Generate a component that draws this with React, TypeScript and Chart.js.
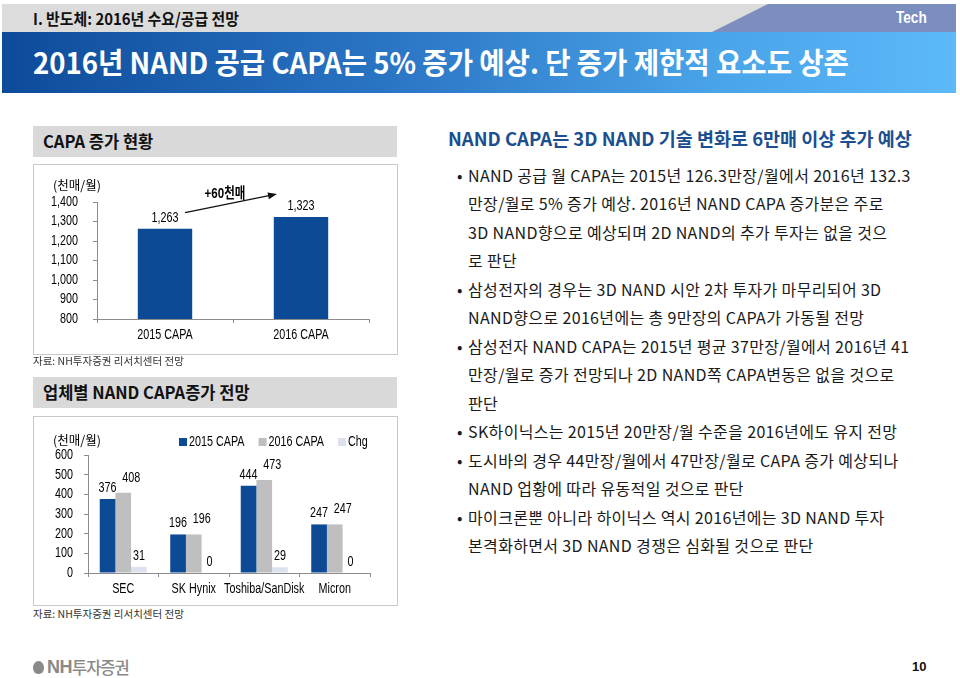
import React, { useEffect, useRef } from "react";
import { Chart, registerables } from "chart.js";

Chart.register(...registerables);

// ---------- data ----------
const capaCategories = ["2015 CAPA", "2016 CAPA"];
const capaValues = [1263, 1323];
const capaYTicks = [800, 900, 1000, 1100, 1200, 1300, 1400];
const capaIncreaseLabel = "+60천매";

const vendorCategories = ["SEC", "SK Hynix", "Toshiba/SanDisk", "Micron"];
const vendorSeriesNames = ["2015 CAPA", "2016 CAPA", "Chg"];
const vendorCapa2015 = [376, 196, 444, 247];
const vendorCapa2016 = [408, 196, 473, 247];
const vendorCapaChg = [31, 0, 29, 0];
const vendorYTicks = [0, 100, 200, 300, 400, 500, 600];

const unitLabel = "(천매/월)";
const sourceLabel = "자료: NH투자증권 리서치센터 전망";
const sectionLabel = "I. 반도체: 2016년 수요/공급 전망";
const tagLabel = "Tech";
const pageTitle = "2016년 NAND 공급 CAPA는 5% 증가 예상. 단 증가 제한적 요소도 상존";
const chart1Title = "CAPA 증가 현황";
const chart2Title = "업체별 NAND CAPA증가 전망";
const rightHeading = "NAND CAPA는 3D NAND 기술 변화로 6만매 이상 추가 예상";
const bulletLines: [boolean, string][] = [
  [true, "NAND 공급 월 CAPA는 2015년 126.3만장/월에서 2016년 132.3"],
  [false, "만장/월로 5% 증가 예상. 2016년 NAND CAPA 증가분은 주로"],
  [false, "3D NAND향으로 예상되며 2D NAND의 추가 투자는 없을 것으"],
  [false, "로 판단"],
  [true, "삼성전자의 경우는 3D NAND 시안 2차 투자가 마무리되어 3D"],
  [false, "NAND향으로 2016년에는 총 9만장의 CAPA가 가동될 전망"],
  [true, "삼성전자 NAND CAPA는 2015년 평균 37만장/월에서 2016년 41"],
  [false, "만장/월로 증가 전망되나 2D NAND쪽 CAPA변동은 없을 것으로"],
  [false, "판단"],
  [true, "SK하이닉스는 2015년 20만장/월 수준을 2016년에도 유지 전망"],
  [true, "도시바의 경우 44만장/월에서 47만장/월로 CAPA 증가 예상되나"],
  [false, "NAND 업황에 따라 유동적일 것으로 판단"],
  [true, "마이크론뿐 아니라 하이닉스 역시 2016년에는 3D NAND 투자"],
  [false, "본격화하면서 3D NAND 경쟁은 심화될 것으로 판단"],
];
const pageNumber = "10";

// ---------- styles ----------
const NUM_FONT = '"Liberation Sans", Arial, "Noto Sans CJK KR", sans-serif';
const KR_FONT = '"Noto Sans CJK KR", "Noto Sans KR", sans-serif';
const BLUE = "#0c4a96";
const GRAY_BAR = "#bfbfbf";
const CHG_COLOR = "#dbe2ee";
const AXIS = "#8c8c8c";
const seriesColors = [BLUE, GRAY_BAR, CHG_COLOR];
const NARROW = 0.77;
const LABEL_FONT = `14px ${NUM_FONT}`;

const fmt = (v: number) => Number(v).toLocaleString("en-US");

function narrowText(ctx: any, text: string, x: number, y: number, align: string, font: string, color = "#000") {
  ctx.save();
  ctx.font = font;
  ctx.fillStyle = color;
  ctx.textBaseline = "middle";
  ctx.textAlign = align;
  ctx.translate(x, y);
  ctx.scale(NARROW, 1);
  ctx.fillText(text, 0, 0);
  ctx.restore();
}

function axisX(height: number) {
  return {
    grid: { display: true, drawOnChartArea: false, drawTicks: true, tickLength: 4, color: AXIS, offset: true },
    border: { display: true, color: AXIS, width: 1 },
    ticks: { display: false, autoSkip: false },
    afterFit: (s: any) => { s.height = height; },
  };
}

function axisY(min: number, max: number, ticks: number[], width: number) {
  return {
    min,
    max,
    afterBuildTicks: (s: any) => { s.ticks = ticks.map((v) => ({ value: v })); },
    grid: { display: true, drawOnChartArea: false, drawTicks: true, tickLength: 4, color: AXIS },
    border: { display: true, color: AXIS, width: 1 },
    ticks: { display: false },
    afterFit: (s: any) => { s.width = width; },
  };
}

function makeTickLabelPlugin(yGap: number, xGap: number) {
  return {
    id: "narrowTicks",
    afterDraw(chart: any) {
      const ctx = chart.ctx;
      const xs = chart.scales.x;
      const ys = chart.scales.y;
      (chart.data.labels as string[]).forEach((lab, i) => {
        narrowText(ctx, lab, xs.getPixelForTick(i), xs.top + xGap, "center", LABEL_FONT);
      });
      ys.ticks.forEach((t: any) => {
        narrowText(ctx, fmt(t.value), ys.right - yGap, ys.getPixelForValue(t.value), "right", LABEL_FONT);
      });
    },
  };
}

const capaLabelPlugin = {
  id: "capaLabels",
  afterDatasetsDraw(chart: any) {
    const ctx = chart.ctx;
    const meta = chart.getDatasetMeta(0);
    meta.data.forEach((bar: any, i: number) => {
      narrowText(ctx, fmt(capaValues[i]), bar.x, bar.y - 11, "center", LABEL_FONT);
    });
    const b0 = meta.data[0];
    const b1 = meta.data[1];
    const x0 = b0.x + 20, y0 = b0.y - 16;
    const x1 = b1.x - 24, y1 = b1.y - 23;
    const ang = Math.atan2(y1 - y0, x1 - x0);
    const c = Math.cos(ang), s = Math.sin(ang);
    ctx.save();
    ctx.strokeStyle = "#111";
    ctx.lineWidth = 1.3;
    ctx.beginPath();
    ctx.moveTo(x0, y0);
    ctx.lineTo(x1 - 7 * c, y1 - 7 * s);
    ctx.stroke();
    ctx.fillStyle = "#111";
    ctx.beginPath();
    ctx.moveTo(x1, y1);
    ctx.lineTo(x1 - 9 * c + 3.5 * s, y1 - 9 * s - 3.5 * c);
    ctx.lineTo(x1 - 9 * c - 3.5 * s, y1 - 9 * s + 3.5 * c);
    ctx.closePath();
    ctx.fill();
    ctx.restore();
    narrowText(ctx, capaIncreaseLabel, (x0 + x1) / 2 - 6, (y0 + y1) / 2 - 10, "center", `bold 15px ${NUM_FONT}`);
  },
};

const vendorLabelOffsets = [
  { dx: 0, dy: -11 },
  { dx: 8, dy: -15 },
  { dx: 0, dy: -11 },
];

const vendorLabelPlugin = {
  id: "vendorLabels",
  afterDatasetsDraw(chart: any) {
    const ctx = chart.ctx;
    chart.data.datasets.forEach((ds: any, di: number) => {
      const meta = chart.getDatasetMeta(di);
      const off = vendorLabelOffsets[di];
      meta.data.forEach((bar: any, i: number) => {
        narrowText(ctx, fmt(ds.data[i]), bar.x + off.dx, bar.y + off.dy, "center", LABEL_FONT);
      });
    });
    // legend
    let x = 145;
    const y = 25;
    ctx.save();
    ctx.font = LABEL_FONT;
    chart.data.datasets.forEach((ds: any) => {
      ctx.fillStyle = ds.backgroundColor;
      ctx.fillRect(x, y - 4, 8, 8);
      x += 10;
      narrowText(ctx, ds.label, x, y, "left", LABEL_FONT);
      x += ctx.measureText(ds.label).width * NARROW + 14;
    });
    ctx.restore();
  },
};

function CapaChart() {
  const ref = useRef<HTMLCanvasElement | null>(null);
  useEffect(() => {
    if (!ref.current) return;
    const chart = new Chart(ref.current, {
      type: "bar",
      data: {
        labels: capaCategories,
        datasets: [
          {
            data: capaValues,
            backgroundColor: BLUE,
            borderWidth: 0,
            categoryPercentage: 0.8,
            barPercentage: 0.5,
          },
        ],
      },
      options: {
        responsive: false,
        animation: false,
        devicePixelRatio: 1,
        layout: { padding: { top: 37, right: 28, left: 0, bottom: 0 } },
        plugins: { legend: { display: false }, tooltip: { enabled: false } },
        scales: {
          x: axisX(35) as any,
          y: axisY(800, 1400, capaYTicks, 63) as any,
        },
      },
      plugins: [capaLabelPlugin, makeTickLabelPlugin(19, 16)],
    });
    return () => chart.destroy();
  }, []);
  return (
    <canvas
      ref={ref}
      width={363}
      height={189}
      style={{ position: "absolute", left: 34, top: 165, width: 363, height: 189, display: "block" }}
    />
  );
}

function VendorChart() {
  const ref = useRef<HTMLCanvasElement | null>(null);
  useEffect(() => {
    if (!ref.current) return;
    const series = [vendorCapa2015, vendorCapa2016, vendorCapaChg];
    const chart = new Chart(ref.current, {
      type: "bar",
      data: {
        labels: vendorCategories,
        datasets: series.map((d, i) => ({
          label: vendorSeriesNames[i],
          data: d,
          backgroundColor: seriesColors[i],
          borderWidth: 0,
          categoryPercentage: 0.667,
          barPercentage: 1.0,
        })),
      },
      options: {
        responsive: false,
        animation: false,
        devicePixelRatio: 1,
        layout: { padding: { top: 38, right: 27, left: 0, bottom: 0 } },
        plugins: { legend: { display: false }, tooltip: { enabled: false } },
        scales: {
          x: axisX(32) as any,
          y: axisY(0, 600, vendorYTicks, 54) as any,
        },
      },
      plugins: [vendorLabelPlugin, makeTickLabelPlugin(15, 16)],
    });
    return () => chart.destroy();
  }, []);
  return (
    <canvas
      ref={ref}
      width={363}
      height={188}
      style={{ position: "absolute", left: 34, top: 417, width: 363, height: 188, display: "block" }}
    />
  );
}

const abs = (s: React.CSSProperties): React.CSSProperties => ({ position: "absolute", ...s });

export default function App() {
  return (
    <div style={abs({ left: 0, top: 0, width: 960, height: 678, background: "#fff", overflow: "hidden", fontFamily: KR_FONT })}>
      {/* header bar */}
      <div style={abs({ left: 2, top: 4, width: 954, height: 28, background: "#dcdcdc" })} />
      <svg style={abs({ left: 0, top: 0 })} width={960} height={40}>
        <polygon points="712,32 768,4 956,4 956,32" fill="#7b8ebf" />
      </svg>
      <div style={abs({ left: 33, top: 4, height: 28, lineHeight: "28px", fontSize: 16, fontWeight: 700, color: "#111", whiteSpace: "nowrap", transform: "scaleX(0.93)", transformOrigin: "left center" })}>
        {sectionLabel}
      </div>
      <div style={abs({ left: 896, top: 4, height: 28, lineHeight: "28px", fontSize: 16, fontWeight: 700, color: "#fff", fontFamily: NUM_FONT, transform: "scaleX(0.85)", transformOrigin: "left center" })}>
        {tagLabel}
      </div>
      {/* title band */}
      <div style={abs({ left: 2, top: 32, width: 954, height: 61, background: "linear-gradient(to right, #0d4b9a 0%, #2a74c4 40%, #4aa4e8 75%, #5cb9fa 100%)" })} />
      <div style={abs({ left: 33, top: 32, height: 58, lineHeight: "58px", fontSize: 29, fontWeight: 700, color: "#fff", whiteSpace: "nowrap", transform: "scaleX(0.95)", transformOrigin: "left center" })}>
        {pageTitle}
      </div>

      {/* left panel 1 */}
      <div style={abs({ left: 33, top: 126, width: 364, height: 31, background: "#d9d9d9" })} />
      <div style={abs({ left: 43, top: 126, height: 31, lineHeight: "31px", fontSize: 16.5, fontWeight: 700, color: "#111", whiteSpace: "nowrap" })}>{chart1Title}</div>
      <div style={abs({ left: 33, top: 164, width: 365, height: 191, border: "1px solid #c9c9c9", boxSizing: "border-box" })} />
      <CapaChart />
      <div style={abs({ left: 53, top: 177, fontSize: 12.5, lineHeight: "16px", color: "#000", whiteSpace: "nowrap" })}>{unitLabel}</div>
      <div style={abs({ left: 33, top: 354, fontSize: 10.5, lineHeight: "14px", color: "#333", whiteSpace: "nowrap" })}>{sourceLabel}</div>

      {/* left panel 2 */}
      <div style={abs({ left: 33, top: 377, width: 364, height: 31, background: "#d9d9d9" })} />
      <div style={abs({ left: 43, top: 377, height: 31, lineHeight: "31px", fontSize: 16.5, fontWeight: 700, color: "#111", whiteSpace: "nowrap" })}>{chart2Title}</div>
      <div style={abs({ left: 33, top: 416, width: 365, height: 190, border: "1px solid #c9c9c9", boxSizing: "border-box" })} />
      <VendorChart />
      <div style={abs({ left: 53, top: 432, fontSize: 12.5, lineHeight: "16px", color: "#000", whiteSpace: "nowrap" })}>{unitLabel}</div>
      <div style={abs({ left: 33, top: 607, fontSize: 10.5, lineHeight: "14px", color: "#333", whiteSpace: "nowrap" })}>{sourceLabel}</div>

      {/* right text */}
      <div style={abs({ left: 448, top: 126, height: 24, lineHeight: "24px", fontSize: 18.5, fontWeight: 700, color: "#1b4f8f", whiteSpace: "nowrap" })}>
        {rightHeading}
      </div>
      {bulletLines.map(([b, t], i) => (
        <div key={i} style={abs({ left: 468, top: 161 + i * 28.46, height: 28, lineHeight: "28px", fontSize: 16, letterSpacing: 0.35, color: "#1a1a1a", whiteSpace: "nowrap" })}>
          {b && <span style={{ position: "absolute", left: -11, top: 0 }}>•</span>}
          {t}
        </div>
      ))}

      {/* footer */}
      <div style={abs({ left: 33, top: 657, height: 20, display: "flex", alignItems: "center", color: "#8a8a8a", whiteSpace: "nowrap" })}>
        <span style={{ display: "inline-block", width: 11, height: 13, borderRadius: "50% 50% 45% 45%", background: "#8a8a8a", marginRight: 3 }} />
        <span style={{ fontFamily: NUM_FONT, fontWeight: 700, fontSize: 18, letterSpacing: -0.5 }}>NH</span>
        <span style={{ fontSize: 16.5, fontWeight: 500, letterSpacing: -1 }}>투자증권</span>
      </div>
      <div style={abs({ left: 912, top: 659, height: 16, lineHeight: "16px", fontSize: 13, fontWeight: 700, fontFamily: NUM_FONT, color: "#111" })}>
        {pageNumber}
      </div>
    </div>
  );
}
